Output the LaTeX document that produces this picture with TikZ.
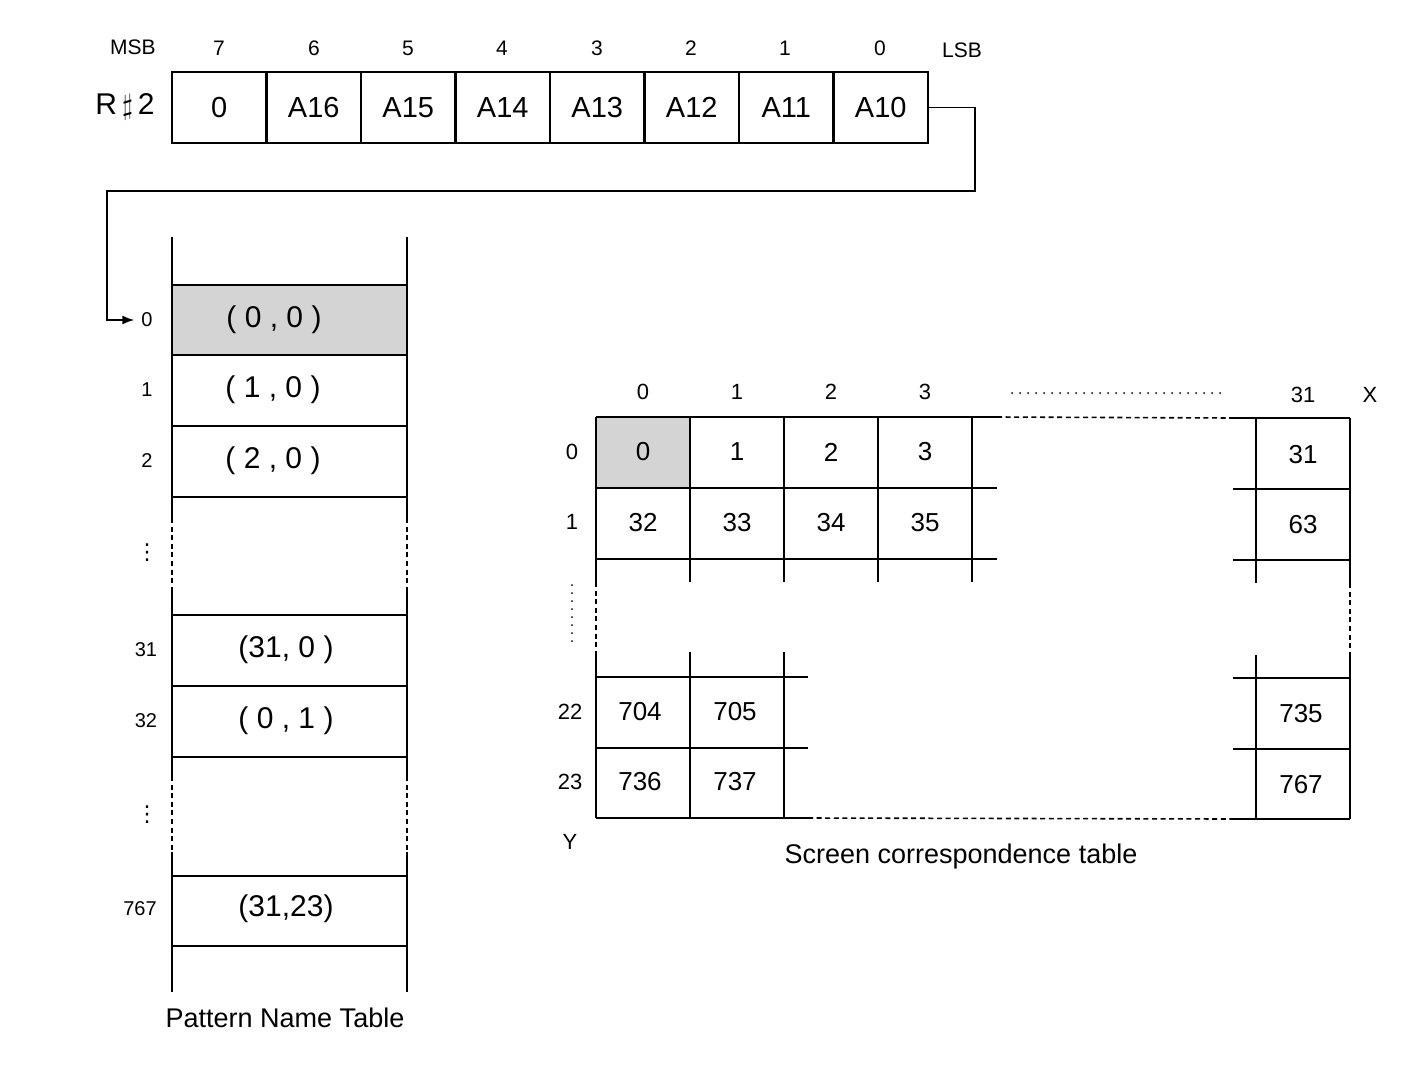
\documentclass[tikz,border=0pt]{standalone}
\usepackage{fontspec}
\setmainfont{Liberation Sans}
\newfontfamily\symfont{DejaVu Sans}
\usetikzlibrary{arrows.meta}

\begin{document}
\begin{tikzpicture}[
  x=0.5pt,
  y=-0.5pt,
  regcell/.style={draw, line width=1.4pt, minimum width=47.25pt, minimum height=35.5pt, inner sep=0pt, font=\fontsize{14.5}{16}\selectfont},
  bitno/.style={font=\fontsize{10.5}{12}\selectfont},
  rowno/.style={font=\fontsize{10}{11}\selectfont},
  entry/.style={font=\fontsize{15}{17}\selectfont},
  scrno/.style={font=\fontsize{13}{15}\selectfont},
  axisno/.style={font=\fontsize{11}{12}\selectfont},
  caption/.style={font=\fontsize{13.5}{16}\selectfont},
  grid/.style={line width=1.4pt},
  gap/.style={line width=0.8pt, dash pattern=on 2.5pt off 1.8pt},
  dots/.style={line width=1pt, line cap=round, dash pattern=on 0pt off 4pt},
  link/.style={-{Latex[length=6pt,width=4.5pt]}, line width=0.9pt},
  shade/.style={fill=black!17}
]
\useasboundingbox (0,0) rectangle (1403,1088);

% register R#2
\node[bitno] (msb) at (133,47) {MSB};
\node[bitno] (lsb) at (962,50) {LSB};
\node[font=\fontsize{15}{17}\selectfont] (reg) at (125,107) {R\,$\sharp$\,2};
\node[bitno] (n7) at (219,48) {7};
\node[bitno] (n6) at (314,48) {6};
\node[bitno] (n5) at (408,48) {5};
\node[bitno] (n4) at (502,48) {4};
\node[bitno] (n3) at (597,48) {3};
\node[bitno] (n2) at (691,48) {2};
\node[bitno] (n1) at (785,48) {1};
\node[bitno] (n0) at (880,48) {0};
\node[regcell] (b7) at (219.25,107.5) {0};
\node[regcell] (b6) at (313.75,107.5) {A16};
\node[regcell] (b5) at (408.25,107.5) {A15};
\node[regcell] (b4) at (502.75,107.5) {A14};
\node[regcell] (b3) at (597.25,107.5) {A13};
\node[regcell] (b2) at (691.75,107.5) {A12};
\node[regcell] (b1) at (786.25,107.5) {A11};
\node[regcell] (b0) at (880.75,107.5) {A10};

% pattern name table
\fill[shade] (172,285) rectangle (407,355);
\draw[grid] (172,237) -- (172,518) (172,591) -- (172,776) (172,852) -- (172,992);
\draw[grid] (407,237) -- (407,518) (407,591) -- (407,776) (407,852) -- (407,992);
\draw[gap] (172,518) -- (172,591) (172,776) -- (172,852);
\draw[gap] (407,518) -- (407,591) (407,776) -- (407,852);
\draw[grid] (172,285) -- (407,285) (172,355) -- (407,355) (172,426) -- (407,426) (172,497) -- (407,497);
\draw[grid] (172,615) -- (407,615) (172,686) -- (407,686) (172,757) -- (407,757);
\draw[grid] (172,876) -- (407,876) (172,946) -- (407,946);
\node[rowno] (r0) at (147,320) {0};
\node[rowno] (r1) at (147,390) {1};
\node[rowno] (r2) at (147,461) {2};
\node[font=\fontsize{11}{12}\symfont] (rv1) at (147,553) {⋮};
\node[rowno] (r31) at (146,650) {31};
\node[rowno] (r32) at (146,721) {32};
\node[font=\fontsize{11}{12}\symfont] (rv2) at (147,815) {⋮};
\node[rowno] (r767) at (140,909) {767};
\node[entry] (p0) at (274,320) {( 0 , 0 )};
\node[entry] (p1) at (273,390) {( 1 , 0 )};
\node[entry] (p2) at (273,461) {( 2 , 0 )};
\node[entry] (p31) at (286,650) {(31, 0 )};
\node[entry] (p32) at (286,721) {( 0 , 1 )};
\node[entry] (p767) at (286,909) {(31,23)};
\node[caption] (pnt) at (285,1018) {Pattern Name Table};

% base address pointer
\coordinate (turnA) at (975,191);
\coordinate (turnB) at (107,191);
\draw[link] (b0.east) -| (turnA) -- (turnB) |- (r0.west);

% screen correspondence table
\fill[shade] (596,417) rectangle (690,488);
\draw[grid] (596,417) -- (997,417) (596,488) -- (997,488) (596,559) -- (997,559);
\draw[grid] (596,417) -- (596,582) (690,417) -- (690,582) (784,417) -- (784,582) (878,417) -- (878,582) (972,417) -- (972,582);
\draw[grid] (1233,418) -- (1350,418) (1233,489) -- (1350,489) (1233,560) -- (1350,560);
\draw[grid] (1256,418) -- (1256,583) (1350,418) -- (1350,583);
\draw[gap] (997,417) -- (1233,418);
\draw[gap] (596,582) -- (596,652) (1350,583) -- (1350,655);
\draw[grid] (596,652) -- (596,818) (690,652) -- (690,818) (784,652) -- (784,818);
\draw[grid] (1256,655) -- (1256,819) (1350,655) -- (1350,819);
\draw[grid] (596,677) -- (808,677) (596,748) -- (808,748) (596,818) -- (808,818);
\draw[grid] (1233,678) -- (1350,678) (1233,749) -- (1350,749) (1233,819) -- (1350,819);
\draw[gap] (808,818) -- (1233,819);
\draw[dots] (1012,393) -- (1220,393);
\draw[dots] (572,585) -- (572,648);
\node[axisno] (c0) at (643,392) {0};
\node[axisno] (c1) at (737,392) {1};
\node[axisno] (c2) at (831,392) {2};
\node[axisno] (c3) at (925,392) {3};
\node[axisno] (c31) at (1303,395) {31};
\node[axisno] (cx) at (1370,395) {X};
\node[axisno] (y0) at (572,452) {0};
\node[axisno] (y1) at (572,522) {1};
\node[axisno] (y22) at (570,712) {22};
\node[axisno] (y23) at (570,782) {23};
\node[axisno] (yy) at (570,842) {Y};
\node[scrno] (s0) at (643,452) {0};
\node[scrno] (s1) at (737,452) {1};
\node[scrno] (s2) at (831,452) {2};
\node[scrno] (s3) at (925,452) {3};
\node[scrno] (s31) at (1303,455) {31};
\node[scrno] (s32) at (643,523) {32};
\node[scrno] (s33) at (737,523) {33};
\node[scrno] (s34) at (831,523) {34};
\node[scrno] (s35) at (925,523) {35};
\node[scrno] (s63) at (1303,525) {63};
\node[scrno] (s704) at (640,712) {704};
\node[scrno] (s705) at (735,712) {705};
\node[scrno] (s735) at (1301,714) {735};
\node[scrno] (s736) at (640,782) {736};
\node[scrno] (s737) at (735,782) {737};
\node[scrno] (s767) at (1301,785) {767};
\node[caption] (sct) at (961,857) {Screen correspondence table};
\end{tikzpicture}
\end{document}
